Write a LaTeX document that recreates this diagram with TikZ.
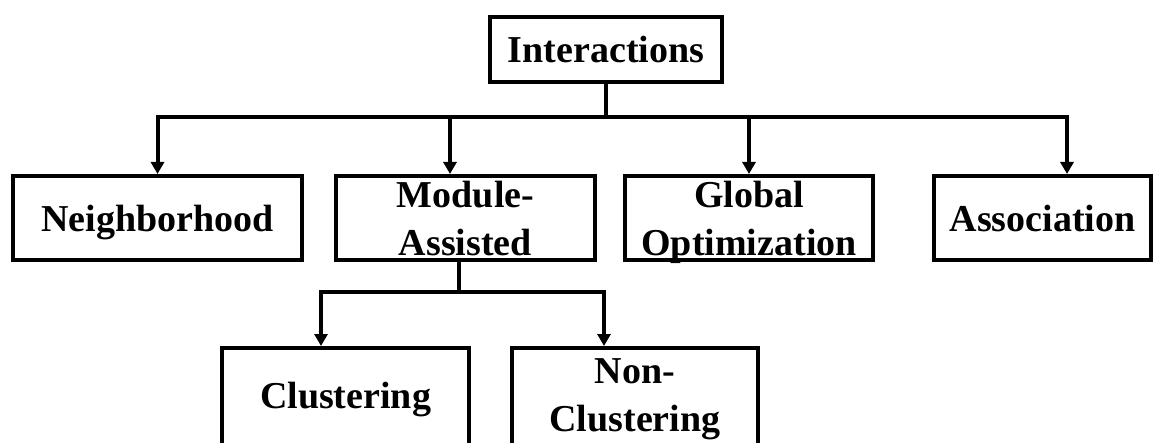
\documentclass[tikz,border=0pt]{standalone}
\usepackage{fontspec}
\setmainfont{Liberation Serif}
\usetikzlibrary{arrows.meta,positioning}

\begin{document}
\begin{tikzpicture}[
  x=1pt,y=-1pt,
  box/.style={draw,line width=4pt,inner sep=0pt,align=center,text depth=0pt,
              minimum height=84pt,font=\fontsize{38}{48}\selectfont\bfseries},
  link/.style={line width=4pt},
  arrow/.style={line width=4pt,-{Triangle[length=12pt,width=13pt]}}
]
\path[use as bounding box,clip] (0,0) rectangle (1155,443);
\node[box,minimum width=232pt,minimum height=65pt] (inter) at (606,49.5) {Interactions};
\node[box,minimum width=289pt] (nbh) at (157.5,218) {Neighborhood};
\node[box,minimum width=259pt,right=30pt of nbh] (mod) {Module-\\Assisted};
\node[box,minimum width=248pt,right=26pt of mod] (glob) {Global\\Optimization};
\node[box,minimum width=217pt,right=57pt of glob] (assoc) {Association};
\node[box,minimum width=247pt,minimum height=102pt,text depth=8pt] (clus) at (345.5,399) {Clustering};
\node[box,minimum width=246pt,minimum height=102pt,text depth=8pt,right=39pt of clus] (nonclus) {Non-\\Clustering};
\coordinate (bus) at (0,117);
\coordinate (fork) at (0,292);
\draw[link] (inter.south) -- (inter.south |- bus);
\draw[arrow] (inter.south |- bus) -| (nbh.north);
\draw[arrow] (inter.south |- bus) -| ([xshift=24.5pt]assoc.north);
\draw[arrow] ([xshift=-15.5pt]mod.north |- bus) -- ([xshift=-15.5pt]mod.north);
\draw[arrow] (glob.north |- bus) -- (glob.north);
\draw[link] ([xshift=-6.5pt]mod.south) -- ([xshift=-6.5pt]mod.south |- fork);
\draw[arrow] ([xshift=-6.5pt]mod.south |- fork) -| ([xshift=-24.5pt]clus.north);
\draw[arrow] ([xshift=-6.5pt]mod.south |- fork) -| ([xshift=-31pt]nonclus.north);
\end{tikzpicture}
\end{document}
